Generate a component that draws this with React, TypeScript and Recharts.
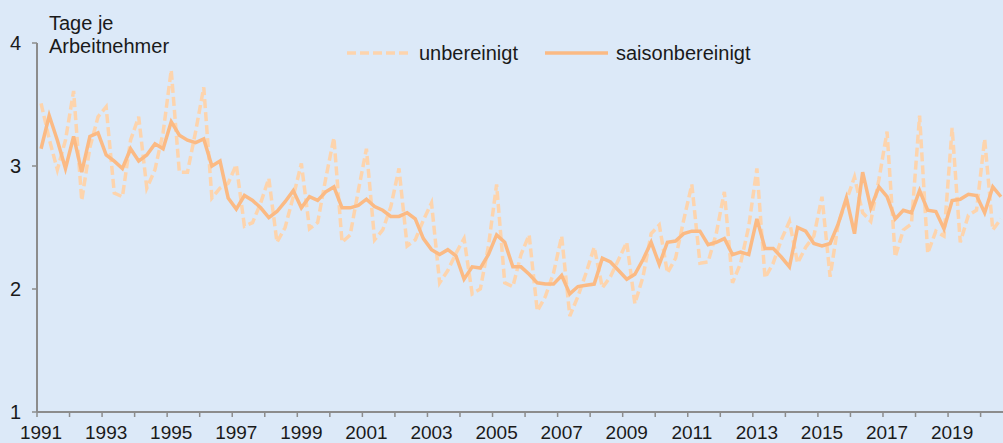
import { LineChart, Line, XAxis, YAxis } from 'recharts';

// quarterly values, 1991 Q1 .. 2020 Q3 (days per employee)
const unbereinigt = [
  3.51, 3.22, 2.97, 3.21, 3.61, 2.72, 3.15, 3.40, 3.48, 2.78, 2.75, 3.21,
  3.40, 2.82, 2.97, 3.27, 3.78, 2.95, 2.95, 3.28, 3.64, 2.74, 2.82, 2.86,
  3.01, 2.51, 2.54, 2.70, 2.90, 2.38, 2.50, 2.75, 3.02, 2.49, 2.54, 2.90,
  3.23, 2.38, 2.44, 2.80, 3.14, 2.40, 2.48, 2.67, 2.98, 2.35, 2.40, 2.56,
  2.70, 2.05, 2.15, 2.29, 2.41, 1.96, 2.00, 2.35, 2.85, 2.05, 2.02, 2.28,
  2.44, 1.82, 1.94, 2.13, 2.43, 1.78, 1.94, 2.13, 2.34, 2.01, 2.10, 2.24,
  2.38, 1.88, 2.10, 2.45, 2.52, 2.13, 2.25, 2.56, 2.85, 2.21, 2.22, 2.45,
  2.79, 2.05, 2.21, 2.51, 2.98, 2.09, 2.21, 2.40, 2.55, 2.21, 2.34, 2.43,
  2.75, 2.10, 2.53, 2.72, 2.91, 2.62, 2.55, 2.89, 3.28, 2.26, 2.48, 2.53,
  3.41, 2.29, 2.47, 2.43, 3.31, 2.38, 2.60, 2.64, 3.22, 2.48, 2.57,
];

const saisonbereinigt = [
  3.14, 3.41, 3.21, 2.98, 3.24, 2.95, 3.24, 3.27, 3.09, 3.04, 2.98, 3.14,
  3.04, 3.09, 3.18, 3.14, 3.36, 3.25, 3.21, 3.19, 3.22, 3.00, 3.04, 2.74,
  2.65, 2.76, 2.72, 2.66, 2.58, 2.63, 2.71, 2.80, 2.66, 2.75, 2.72, 2.79,
  2.83, 2.66, 2.66, 2.68, 2.73, 2.67, 2.64, 2.59, 2.59, 2.62, 2.57, 2.41,
  2.32, 2.28, 2.32, 2.27, 2.08, 2.18, 2.17, 2.28, 2.44, 2.38, 2.18, 2.18,
  2.12, 2.05, 2.04, 2.04, 2.11, 1.96, 2.02, 2.03, 2.04, 2.25, 2.22, 2.15,
  2.08, 2.12, 2.24, 2.38, 2.20, 2.38, 2.39, 2.45, 2.47, 2.47, 2.36, 2.38,
  2.41, 2.28, 2.30, 2.28, 2.57, 2.33, 2.33, 2.26, 2.18, 2.50, 2.47, 2.37,
  2.35, 2.37, 2.53, 2.74, 2.45, 2.95, 2.66, 2.83, 2.75, 2.57, 2.64, 2.62,
  2.80, 2.64, 2.63, 2.49, 2.72, 2.73, 2.77, 2.76, 2.62, 2.83, 2.75,
];

const yearLabels = [
  '1991', '1993', '1995', '1997', '1999', '2001', '2003', '2005',
  '2007', '2009', '2011', '2013', '2015', '2017', '2019',
];

const yTicks = [1, 2, 3, 4];

const BG = '#dce9f8';
const AXIS = '#8c8c8c';
const FONT = '"Liberation Sans", Arial, sans-serif';
const DASH_COLOR = '#fdd4ad';
const SOLID_COLOR = '#fbba84';
const DASH = '9 4';

const CHART_W = 1005;
const CHART_H = 443;
const Y_AXIS_W = 37;

const n = unbereinigt.length;
const data = unbereinigt.map((u, i) => ({ q: i + 0.5, u, s: saisonbereinigt[i] }));

// a tick mark at every year start, a label every second year
const yearTicks: number[] = [];
for (let q = 0; q < n; q += 4) yearTicks.push(q);

const quarterPx = (CHART_W - Y_AXIS_W) / n;

const XTick = (props: any) => {
  const { x, y, payload } = props;
  const year = payload.value / 4;
  if (year % 2 !== 0) return <g />;
  return (
    <text
      x={x + quarterPx / 2}
      y={y}
      dy={20}
      textAnchor="middle"
      fontSize={19}
      fontFamily={FONT}
      fill="#1a1a1a"
    >
      {yearLabels[year / 2]}
    </text>
  );
};

export default function App() {
  return (
    <div
      style={{
        position: 'absolute',
        left: 0,
        top: 0,
        width: 1003,
        height: 443,
        overflow: 'hidden',
        background: BG,
      }}
    >
      <LineChart
        width={CHART_W}
        height={CHART_H}
        data={data}
        margin={{ top: 43, right: 0, bottom: 0, left: 0 }}
      >
        <XAxis
          type="number"
          dataKey="q"
          domain={[0, n]}
          ticks={yearTicks}
          interval={0}
          height={31}
          tickSize={5}
          tickLine={{ stroke: AXIS, strokeWidth: 1.5 }}
          axisLine={{ stroke: AXIS, strokeWidth: 2 }}
          tick={XTick}
        />
        <YAxis
          type="number"
          domain={[1, 4]}
          ticks={yTicks}
          interval={0}
          width={Y_AXIS_W}
          tickSize={5}
          tickMargin={11}
          tickLine={{ stroke: AXIS, strokeWidth: 1.5 }}
          axisLine={{ stroke: AXIS, strokeWidth: 2 }}
          tick={{ fontSize: 20, fontFamily: FONT, fill: '#1a1a1a' }}
        />
        <Line
          type="linear"
          dataKey="u"
          stroke={DASH_COLOR}
          strokeWidth={3.5}
          strokeDasharray={DASH}
          dot={false}
          isAnimationActive={false}
        />
        <Line
          type="linear"
          dataKey="s"
          stroke={SOLID_COLOR}
          strokeWidth={3.5}
          dot={false}
          isAnimationActive={false}
        />
      </LineChart>

      {/* axis title and legend */}
      <svg
        width={1003}
        height={80}
        style={{ position: 'absolute', left: 0, top: 0, pointerEvents: 'none' }}
        fontFamily={FONT}
        fontSize={20}
        fill="#1a1a1a"
      >
        <text x={49} y={30}>Tage je</text>
        <text x={49} y={53}>Arbeitnehmer</text>

        <line x1={347} y1={53} x2={411} y2={53} stroke={DASH_COLOR} strokeWidth={3.5} strokeDasharray={DASH} />
        <text x={419} y={60}>unbereinigt</text>
        <line x1={545} y1={53} x2={608} y2={53} stroke={SOLID_COLOR} strokeWidth={3.5} />
        <text x={616} y={60}>saisonbereinigt</text>
      </svg>
    </div>
  );
}
